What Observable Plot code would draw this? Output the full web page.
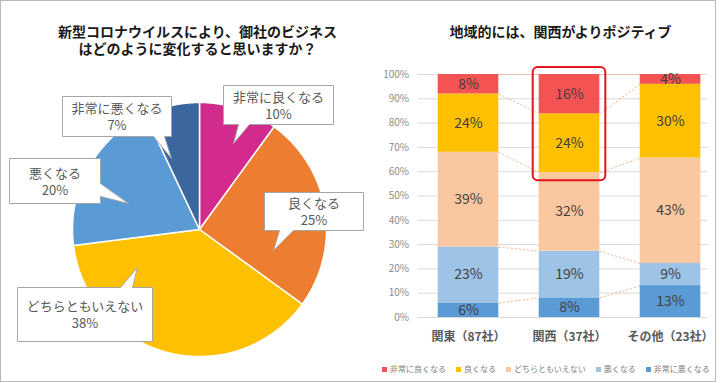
<!DOCTYPE html>
<html><head><meta charset="utf-8">
<script src="https://cdn.jsdelivr.net/npm/d3@7"></script>
<script src="https://cdn.jsdelivr.net/npm/@observablehq/plot@0.6"></script>
<style>
html,body{margin:0;padding:0;background:#fff;}
#root{position:relative;width:720px;height:383px;overflow:hidden;font-family:"Noto Sans CJK JP","Noto Sans",sans-serif;background:#fff;}
#border{position:absolute;left:0;top:0;width:716px;height:382px;box-sizing:border-box;border:1px solid #b8b8b8;}
.title{position:absolute;font-weight:bold;font-size:14px;line-height:17px;height:17px;color:#1a1a1a;text-align:center;white-space:nowrap;}
#pieChart,#barChart{position:absolute;top:0;}
#pieChart{left:0;}
#barChart{left:360px;}
#legend{position:absolute;left:382px;top:364px;display:flex;gap:10px;font-size:8px;line-height:10px;color:#808080;white-space:nowrap;}
#legend .item{display:flex;align-items:center;}
#legend .sw{width:5px;height:5px;margin-right:3px;}
</style></head>
<body>
<div id="root">
  <div id="border"></div>
  <div id="barChart"></div>
  <div id="pieChart"></div>
  <div class="title" style="left:0;width:395px;top:23px;">新型コロナウイルスにより、御社のビジネス</div>
  <div class="title" style="left:0;width:395px;top:40px;">はどのように変化すると思いますか？</div>
  <div class="title" style="left:360px;width:401px;top:23px;">地域的には、関西がよりポジティブ</div>
  <div id="legend"></div>
</div>
<script>
// ---------- data ----------
const pieCats = ["非常に良くなる", "良くなる", "どちらともいえない", "悪くなる", "非常に悪くなる"];
const pieValues = [10, 25, 38, 20, 7];
const pieColors = ["#D22B8D", "#ED7D31", "#FFC000", "#5B9BD5", "#3B669E"];

const regions = ["関東（87社）", "関西（37社）", "その他（23社）"];
const barCats = ["非常に悪くなる", "悪くなる", "どちらともいえない", "良くなる", "非常に良くなる"]; // bottom -> top
const kantoValues = [6, 23, 39, 24, 8];
const kansaiValues = [8, 19, 32, 24, 16];
const otherValues = [13, 9, 43, 30, 4];
const barColors = ["#5B9BD5", "#9DC3E6", "#F9C8A0", "#FFC000", "#F55353"];
const yTicks = [0, 0.1, 0.2, 0.3, 0.4, 0.5, 0.6, 0.7, 0.8, 0.9, 1];

// ---------- layout (annotation placement, px in the left panel) ----------
const CX = 199, CY = 229, R = 127;
const calloutBoxes = [[223, 85, 333, 124], [264, 192, 363, 230], [17, 287, 152, 341], [9, 158, 100, 203], [62, 96, 171, 136]];
const calloutPointers = [["bottom", 238, 249, 233, 143], ["bottom", 279, 293, 273, 250], ["top", 120, 132, 137, 267], ["right", 183, 196, 128, 203], ["bottom", 153, 164, 171, 158]];

// ---------- pie ----------
const toX = px => (px - CX) / R, toY = py => (CY - py) / R;
const piePts = [];
const total = d3.sum(pieValues);
let acc = 0;
pieCats.forEach((cat, k) => {
  const a0 = acc / total * 2 * Math.PI;
  acc += pieValues[k];
  const a1 = acc / total * 2 * Math.PI;
  piePts.push({cat, x: 0, y: 0});
  const n = Math.max(2, Math.ceil((a1 - a0) / (Math.PI / 360)));
  for (let j = 0; j <= n; j++) {
    const t = a0 + (a1 - a0) * j / n;
    piePts.push({cat, x: Math.sin(t), y: Math.cos(t)});
  }
  piePts.push({cat, x: 0, y: 0});
});

const calloutPts = [];
const calloutLabels = [];
pieCats.forEach((cat, k) => {
  const [x0, y0, x1, y1] = calloutBoxes[k];
  const [side, b1, b2, tx, ty] = calloutPointers[k];
  const p = [];
  p.push([x0, y0]);
  if (side === "top") p.push([b1, y0], [tx, ty], [b2, y0]);
  p.push([x1, y0]);
  if (side === "right") p.push([x1, b1], [tx, ty], [x1, b2]);
  p.push([x1, y1]);
  if (side === "bottom") p.push([b2, y1], [tx, ty], [b1, y1]);
  p.push([x0, y1]);
  p.push([x0, y0]);
  p.forEach(([px, py]) => calloutPts.push({id: k, x: toX(px), y: toY(py)}));
  calloutLabels.push({x: toX((x0 + x1) / 2), y: toY((y0 + y1) / 2), text: cat + "\n" + pieValues[k] + "%"});
});

const pieW = 372, pieH = 383;
const pie = Plot.plot({
  width: pieW, height: pieH,
  marginLeft: CX - R, marginRight: pieW - CX - R, marginTop: CY - R, marginBottom: pieH - CY - R,
  x: {domain: [-1, 1], axis: null},
  y: {domain: [-1, 1], axis: null},
  color: {domain: pieCats, range: pieColors},
  style: {background: "transparent", overflow: "visible", fontFamily: "'Noto Sans CJK JP', sans-serif"},
  marks: [
    Plot.line(piePts, {x: "x", y: "y", z: "cat", fill: "cat", stroke: "white", strokeWidth: 1.5, strokeLinejoin: "miter", strokeLinecap: "butt"}),
    Plot.line(calloutPts, {x: "x", y: "y", z: "id", fill: "white", stroke: "#a6a6a6", strokeWidth: 1, strokeLinejoin: "miter", strokeLinecap: "butt"}),
    Plot.text(calloutLabels, {x: "x", y: "y", text: "text", fontSize: 13, fill: "#595959", lineHeight: 1.3})
  ]
});
document.getElementById("pieChart").append(pie);

// ---------- stacked bars ----------
const regionValues = [kantoValues, kansaiValues, otherValues];
const rows = [];
regions.forEach((region, i) => barCats.forEach((cat, k) => rows.push({region, i, cat, value: regionValues[i][k]})));
const tops = regionValues.map(vals => { const s = d3.sum(vals); return Array.from(d3.cumsum(vals), v => v / s); });
const bottoms = tops.map(t => [0, ...t.slice(0, -1)]);
const HW = 0.3;
const links = [];
for (let i = 0; i < regions.length - 1; i++) {
  barCats.forEach((cat, k) => links.push({x1: i + HW, y1: tops[i][k], x2: i + 1 - HW, y2: tops[i + 1][k]}));
}
const hiIdx = 1; // 関西
const highlight = [{x1: hiIdx - HW, x2: hiIdx + HW, y1: bottoms[hiIdx][3], y2: tops[hiIdx][4]}];

const barW = 360, barH = 383;
const bars = Plot.plot({
  width: barW, height: barH,
  marginLeft: 57.5, marginRight: 12.6, marginTop: 74, marginBottom: 66,
  x: {domain: [-0.5, 2.37], axis: null},
  y: {domain: [0, 1], axis: null},
  color: {domain: barCats, range: barColors},
  style: {background: "transparent", overflow: "visible", fontFamily: "'Noto Sans CJK JP', sans-serif"},
  marks: [
    Plot.ruleY(yTicks, {stroke: "#d9d9d9", strokeWidth: 1}),
    Plot.text(yTicks, {y: d => d, frameAnchor: "left", dx: -9, textAnchor: "end", text: d => Math.round(d * 100) + "%", fontSize: 10, fill: "#8c8c8c"}),
    Plot.link(links, {x1: "x1", y1: "y1", x2: "x2", y2: "y2", stroke: "#F4B183", strokeWidth: 1, strokeDasharray: "2,2"}),
    Plot.rect(rows, Plot.stackY({x1: d => d.i - HW, x2: d => d.i + HW, y: "value", z: "cat", fill: "cat", offset: "normalize"})),
    Plot.text(rows, Plot.stackY({x: "i", y: "value", z: "cat", offset: "normalize", text: d => d.value + "%", fontSize: 14, fill: "#404040"})),
    Plot.rect(highlight, {x1: "x1", x2: "x2", y1: "y1", y2: "y2", fill: "none", stroke: "#E3141E", strokeWidth: 2, rx: 5, insetLeft: -6, insetRight: -6, insetTop: -7, insetBottom: -8}),
    Plot.text(regions, {x: (d, i) => i, frameAnchor: "bottom", dy: 23, text: d => d, fontSize: 12, fontWeight: "bold", fill: "#595959"})
  ]
});
document.getElementById("barChart").append(bars);

// ---------- legend ----------
const legend = document.getElementById("legend");
const legendOrder = barCats.map((c, k) => k).reverse();
legendOrder.forEach(k => {
  const item = document.createElement("div");
  item.className = "item";
  const sw = document.createElement("span");
  sw.className = "sw";
  sw.style.background = barColors[k];
  const label = document.createElement("span");
  label.textContent = barCats[k];
  item.append(sw, label);
  legend.append(item);
});
</script>
</body></html>
